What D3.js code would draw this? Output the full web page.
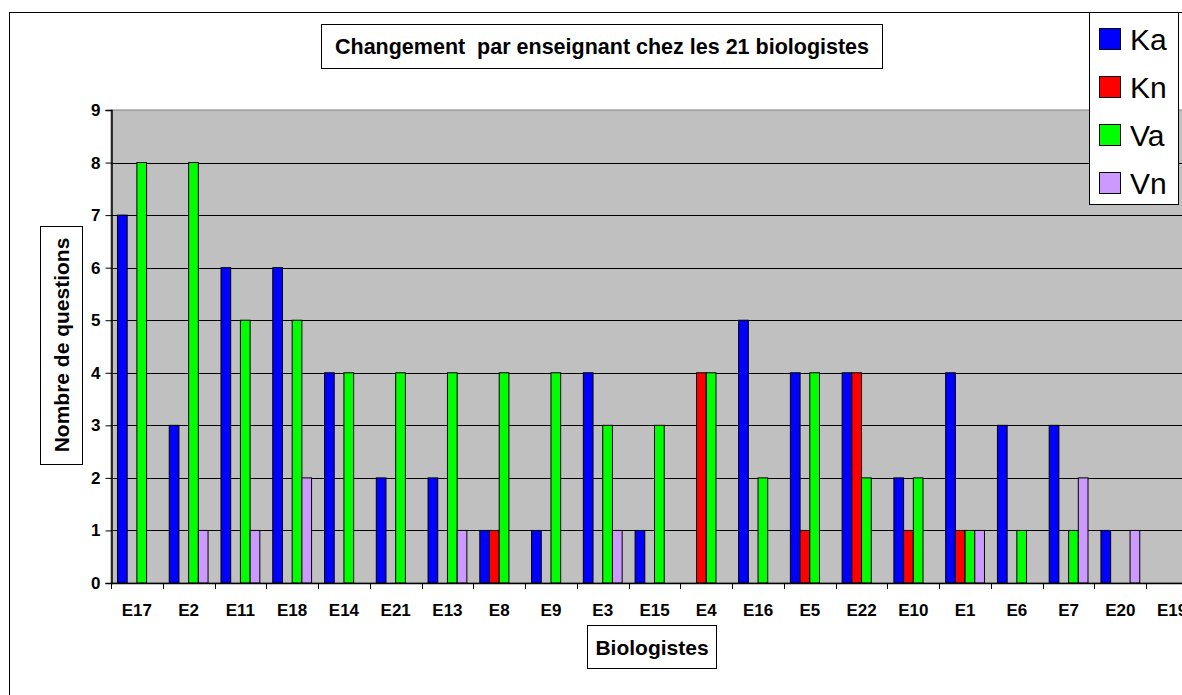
<!DOCTYPE html>
<html>
<head>
  <meta charset='utf-8'>
  <script src='https://d3js.org/d3.v7.min.js'></script>
  <style>
    body { margin: 0; background: white; }
    text { font-family: 'Liberation Sans', Arial, sans-serif; }
  </style>
</head>
<body>
<script>
  // categories and series
  var teachers = ['E17', 'E2', 'E11', 'E18', 'E14', 'E21', 'E13', 'E8', 'E9', 'E3', 'E15',
                  'E4', 'E16', 'E5', 'E22', 'E10', 'E1', 'E6', 'E7', 'E20', 'E19'];
  var seriesNames = ['Ka', 'Kn', 'Va', 'Vn'];
  var seriesColors = ['#0000ff', '#ff0000', '#00ff00', '#cc99ff'];
  var ka = [7, 3, 6, 6, 4, 2, 2, 1, 1, 4, 1, 0, 5, 4, 4, 2, 4, 3, 3, 1, 0];
  var kn = [0, 0, 0, 0, 0, 0, 0, 1, 0, 0, 0, 4, 0, 1, 4, 1, 1, 0, 0, 0, 0];
  var va = [8, 8, 5, 5, 4, 4, 4, 4, 4, 3, 3, 4, 2, 4, 2, 2, 1, 1, 1, 0, 0];
  var vn = [0, 1, 1, 2, 0, 0, 1, 0, 0, 1, 0, 0, 0, 0, 0, 0, 1, 0, 2, 1, 0];
  var yTicks = [0, 1, 2, 3, 4, 5, 6, 7, 8, 9];

  var values = [ka, kn, va, vn];
  var W = 1182, H = 695;
  var plot = { left: 111, top: 110, right: 1198, bottom: 583 };

  var svg = d3.select('body').append('svg')
    .attr('width', W).attr('height', H);

  // outer chart frame (runs off the right and bottom)
  svg.append('rect')
    .attr('x', 9.5).attr('y', 12.5).attr('width', 1300).attr('height', 800)
    .attr('fill', 'white').attr('stroke', 'black').attr('stroke-width', 1);

  var x0 = d3.scaleBand().domain(teachers)
    .range([plot.left, plot.right]).paddingInner(0.25).paddingOuter(0.125);
  var x1 = d3.scaleBand().domain(seriesNames).range([0, x0.bandwidth()]);
  var y = d3.scaleLinear().domain([0, 9]).range([plot.bottom, plot.top]);
  var step = x0.step();

  // plot background
  svg.append('rect')
    .attr('x', plot.left).attr('y', plot.top)
    .attr('width', plot.right - plot.left).attr('height', plot.bottom - plot.top)
    .attr('fill', '#c0c0c0').attr('stroke', '#808080');

  // gridlines
  svg.append('g').selectAll('line').data(yTicks.slice(1, -1)).join('line')
    .attr('x1', plot.left).attr('x2', plot.right)
    .attr('y1', function(d) { return Math.round(y(d)) + 0.5; })
    .attr('y2', function(d) { return Math.round(y(d)) + 0.5; })
    .attr('stroke', 'black');

  // bars
  var groups = svg.append('g').selectAll('g').data(teachers).join('g')
    .attr('transform', function(d) { return 'translate(' + x0(d) + ',0)'; });
  groups.selectAll('rect')
    .data(function(d, i) {
      return seriesNames.map(function(s, j) { return { s: s, j: j, v: values[j][i] }; })
        .filter(function(e) { return e.v > 0; });
    })
    .join('rect')
    .attr('x', function(e) { return x1(e.s); })
    .attr('y', function(e) { return y(e.v); })
    .attr('width', x1.bandwidth())
    .attr('height', function(e) { return y(0) - y(e.v); })
    .attr('fill', function(e) { return seriesColors[e.j]; })
    .attr('stroke', 'black').attr('stroke-width', 1);

  // y axis
  var yAxis = d3.axisLeft(y).tickValues(yTicks).tickSize(6).tickPadding(5)
    .tickFormat(d3.format('d'));
  var gy = svg.append('g').attr('transform', 'translate(' + (plot.left + 0.5) + ',0)').call(yAxis);
  gy.select('.domain').attr('stroke', 'black').attr('stroke-width', 1.5);
  gy.selectAll('text').attr('font-size', 17).attr('font-weight', 'bold')
    .attr('font-family', "'Liberation Sans', Arial, sans-serif");

  // x axis: ticks between categories
  svg.append('line')
    .attr('x1', plot.left).attr('x2', plot.right)
    .attr('y1', plot.bottom + 0.5).attr('y2', plot.bottom + 0.5)
    .attr('stroke', 'black').attr('stroke-width', 1.5);
  svg.append('g').selectAll('line').data(d3.range(teachers.length + 1)).join('line')
    .attr('x1', function(i) { return Math.round(plot.left + i * step) + 0.5; })
    .attr('x2', function(i) { return Math.round(plot.left + i * step) + 0.5; })
    .attr('y1', plot.bottom).attr('y2', plot.bottom + 6)
    .attr('stroke', 'black');
  svg.append('g').selectAll('text').data(teachers).join('text')
    .attr('x', function(d) { return x0(d) + x0.bandwidth() / 2; })
    .attr('y', 616)
    .attr('text-anchor', 'middle')
    .attr('font-size', 17).attr('font-weight', 'bold')
    .text(function(d) { return d; });

  // title
  svg.append('rect').attr('x', 321.5).attr('y', 24.5).attr('width', 561).attr('height', 44)
    .attr('fill', 'white').attr('stroke', 'black');
  svg.append('text').attr('x', 602).attr('y', 54).attr('text-anchor', 'middle')
    .attr('font-size', 21.5).attr('font-weight', 'bold')
    .style('white-space', 'pre')
    .text('Changement  par enseignant chez les 21 biologistes');

  // y axis title
  svg.append('rect').attr('x', 40.5).attr('y', 226.5).attr('width', 42).attr('height', 238)
    .attr('fill', 'white').attr('stroke', 'black');
  svg.append('text').attr('transform', 'translate(69,345) rotate(-90)')
    .attr('text-anchor', 'middle')
    .attr('font-size', 21).attr('font-weight', 'bold')
    .text('Nombre de questions');

  // x axis title
  svg.append('rect').attr('x', 587.5).attr('y', 625.5).attr('width', 129).attr('height', 43)
    .attr('fill', 'white').attr('stroke', 'black');
  svg.append('text').attr('x', 652).attr('y', 655).attr('text-anchor', 'middle')
    .attr('font-size', 21).attr('font-weight', 'bold')
    .text('Biologistes');

  // legend
  var lg = svg.append('g');
  lg.append('rect').attr('x', 1089.5).attr('y', 12.5).attr('width', 89).attr('height', 192)
    .attr('fill', 'white').attr('stroke', 'black');
  var items = lg.selectAll('g').data(seriesNames).join('g')
    .attr('transform', function(d, i) { return 'translate(0,' + (39 + i * 48) + ')'; });
  items.append('rect').attr('x', 1099.5).attr('y', -10.5).attr('width', 21).attr('height', 21)
    .attr('fill', function(d, i) { return seriesColors[i]; }).attr('stroke', 'black');
  items.append('text').attr('x', 1130).attr('y', 11)
    .attr('font-size', 30)
    .text(function(d) { return d; });
</script>
</body>
</html>
